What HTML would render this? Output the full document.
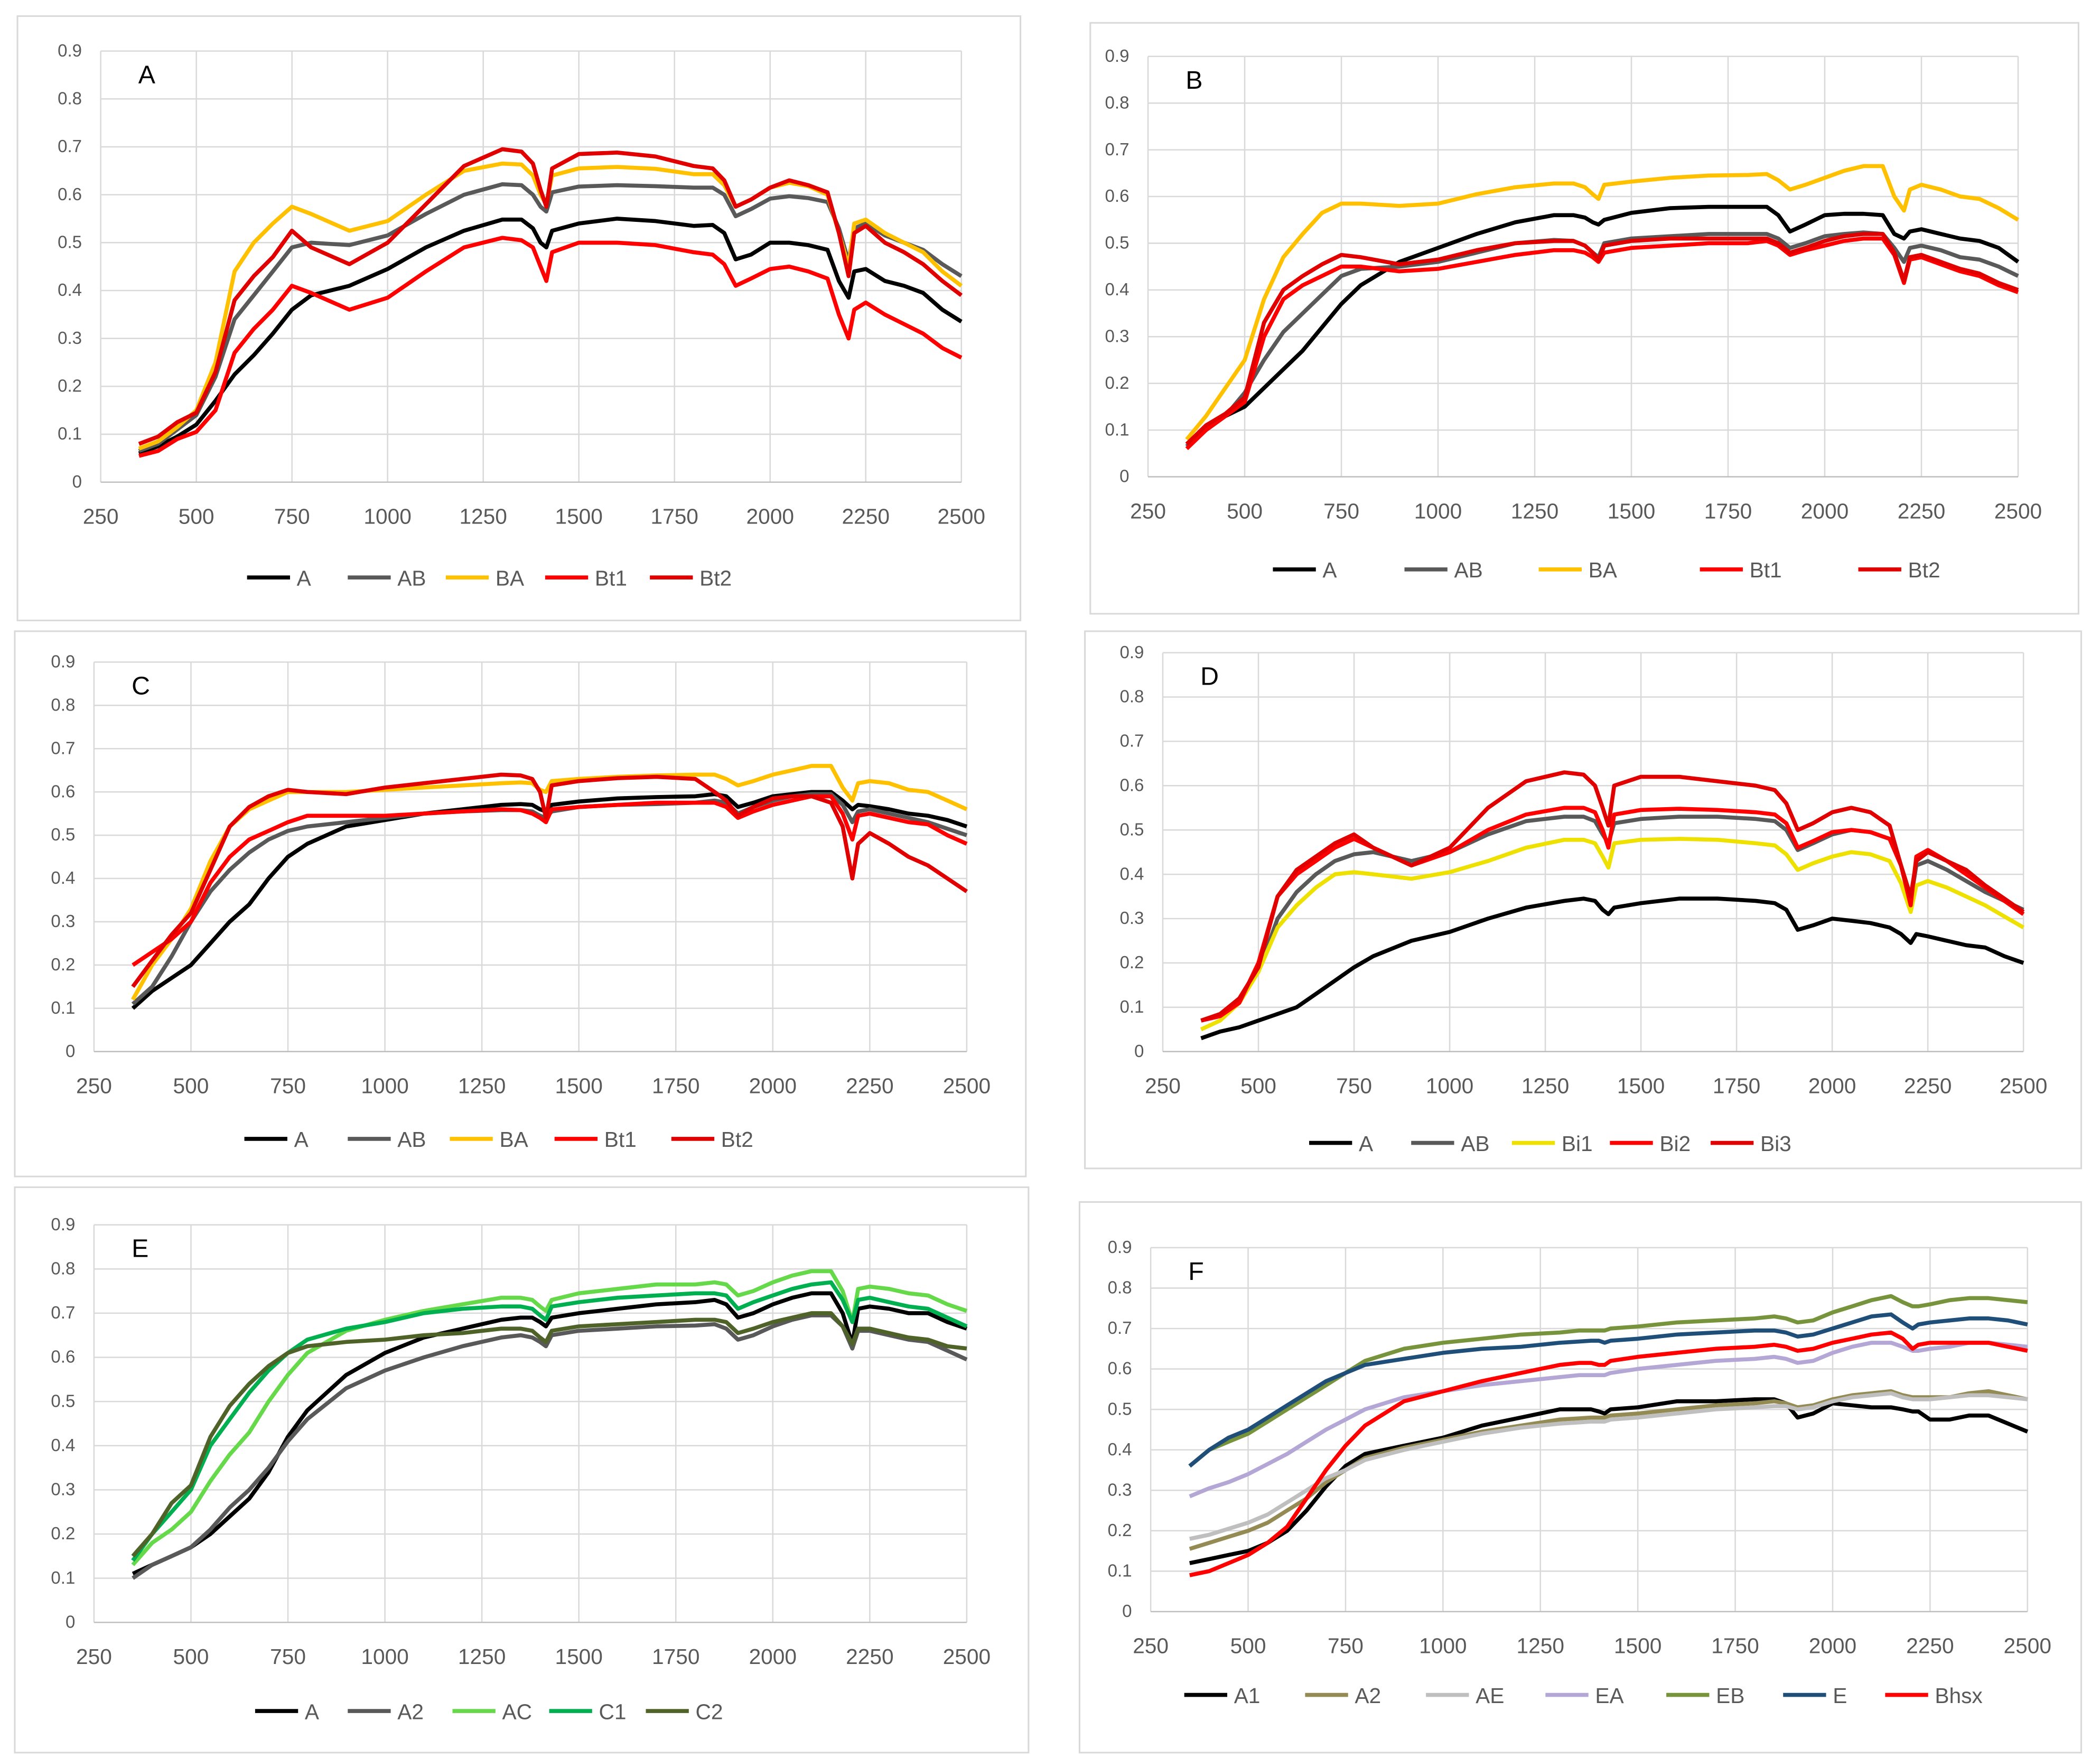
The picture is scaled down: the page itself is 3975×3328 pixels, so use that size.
<!DOCTYPE html>
<html><head><meta charset="utf-8"><style>
html,body{margin:0;padding:0;background:#fff}
svg{display:block}
text{font-family:"Liberation Sans Narrow","Liberation Sans",sans-serif;fill:#595959}
</style></head><body>
<svg id="fig" xmlns="http://www.w3.org/2000/svg" width="3975" height="3328" viewBox="0 0 1564 1309" preserveAspectRatio="none"></svg>
<script>
const wavelengths=[350,400,450,500,550,600,650,700,750,800,900,1000,1100,1200,1300,1350,1380,1400,1415,1430,1500,1600,1700,1800,1850,1880,1910,1950,2000,2050,2100,2150,2180,2205,2220,2250,2300,2350,2400,2450,2500];
const xTicks=[250,500,750,1000,1250,1500,1750,2000,2250,2500];
const yTicks=[0,0.1,0.2,0.3,0.4,0.5,0.6,0.7,0.8,0.9];
const yTickLabels=["0","0.1","0.2","0.3","0.4","0.5","0.6","0.7","0.8","0.9"];
// Panel A
const aNames=["A","AB","BA","Bt1","Bt2"];
const aA=[.06,.075,.095,.12,.17,.225,.265,.31,.36,.39,.41,.445,.49,.525,.548,.548,.53,.50,.49,.525,.54,.55,.545,.535,.537,.52,.465,.475,.5,.5,.495,.485,.42,.385,.44,.445,.42,.41,.395,.36,.335];
const aAB=[.065,.08,.11,.14,.22,.34,.39,.44,.49,.50,.495,.515,.56,.60,.622,.62,.60,.575,.565,.605,.617,.62,.618,.615,.615,.60,.555,.57,.592,.597,.593,.585,.53,.46,.53,.54,.515,.5,.485,.455,.43];
const aBA=[.07,.085,.115,.15,.25,.44,.5,.54,.575,.56,.525,.545,.6,.65,.665,.663,.64,.6,.58,.64,.655,.658,.654,.643,.643,.62,.575,.59,.615,.625,.618,.6,.52,.45,.54,.548,.52,.5,.48,.44,.41];
const aBt1=[.055,.065,.09,.105,.15,.27,.32,.36,.41,.395,.36,.385,.44,.49,.51,.505,.49,.45,.42,.48,.5,.5,.495,.48,.475,.455,.41,.425,.445,.45,.44,.425,.35,.30,.36,.375,.35,.33,.31,.28,.26];
const aBt2=[.08,.095,.125,.145,.23,.38,.43,.47,.525,.49,.455,.5,.58,.66,.695,.69,.665,.61,.575,.655,.685,.688,.68,.66,.655,.63,.575,.59,.615,.63,.62,.605,.52,.43,.52,.535,.5,.48,.455,.42,.39];
// Panel B
const bA=[.065,.1,.13,.15,.19,.23,.27,.32,.37,.41,.46,.49,.52,.545,.56,.56,.555,.545,.54,.55,.565,.575,.578,.578,.578,.56,.525,.54,.56,.563,.563,.56,.52,.51,.525,.53,.52,.51,.505,.49,.46];
const bAB=[.065,.1,.13,.18,.25,.31,.35,.39,.43,.445,.45,.46,.48,.5,.507,.505,.495,.48,.47,.5,.51,.515,.52,.52,.52,.51,.49,.5,.515,.52,.523,.52,.49,.46,.49,.495,.485,.47,.465,.45,.43];
const bBA=[.08,.13,.19,.25,.38,.47,.52,.565,.585,.585,.58,.585,.605,.62,.628,.628,.62,.605,.595,.625,.632,.64,.645,.646,.648,.635,.615,.625,.64,.655,.665,.665,.6,.57,.615,.625,.615,.6,.595,.575,.55];
const bBt1=[.06,.1,.13,.16,.3,.38,.41,.43,.45,.45,.44,.445,.46,.475,.485,.485,.48,.47,.46,.48,.49,.495,.5,.5,.505,.495,.475,.485,.495,.505,.51,.51,.475,.415,.465,.47,.455,.44,.43,.41,.395];
const bBt2=[.07,.11,.135,.17,.33,.4,.43,.455,.475,.47,.455,.465,.485,.5,.505,.505,.495,.48,.465,.495,.505,.51,.51,.51,.51,.5,.48,.49,.505,.515,.52,.52,.48,.42,.47,.475,.46,.445,.435,.415,.4];
// Panel C
const cA=[.1,.14,.17,.2,.25,.3,.34,.4,.45,.48,.52,.535,.55,.56,.57,.572,.57,.56,.555,.57,.578,.585,.588,.59,.595,.59,.565,.575,.59,.595,.6,.6,.58,.56,.57,.567,.56,.55,.545,.535,.52];
const cAB=[.11,.15,.22,.3,.37,.42,.46,.49,.51,.52,.53,.54,.55,.555,.558,.558,.555,.545,.54,.555,.565,.57,.572,.575,.58,.575,.55,.565,.58,.59,.595,.595,.57,.53,.555,.56,.55,.54,.53,.515,.5];
const cBA=[.12,.2,.26,.33,.44,.52,.56,.58,.6,.6,.6,.605,.61,.615,.62,.622,.62,.605,.6,.625,.63,.635,.638,.64,.64,.63,.615,.625,.64,.65,.66,.66,.61,.58,.62,.625,.62,.605,.6,.58,.56];
const cBt1=[.2,.23,.26,.3,.39,.45,.49,.51,.53,.545,.545,.545,.55,.555,.56,.558,.55,.54,.53,.56,.565,.57,.575,.575,.575,.565,.54,.555,.57,.58,.59,.59,.55,.49,.545,.55,.54,.53,.525,.5,.48];
const cBt2=[.15,.21,.27,.32,.42,.52,.565,.59,.605,.6,.595,.61,.62,.63,.64,.638,.63,.6,.54,.615,.625,.632,.635,.63,.6,.58,.545,.565,.585,.59,.59,.575,.52,.4,.48,.505,.48,.45,.43,.4,.37];
// Panel D
const dA=[.03,.045,.055,.07,.085,.1,.13,.16,.19,.215,.25,.27,.3,.325,.34,.345,.34,.32,.31,.325,.335,.345,.345,.34,.335,.32,.275,.285,.3,.295,.29,.28,.265,.245,.265,.26,.25,.24,.235,.215,.2];
const dAB=[.07,.08,.12,.18,.3,.36,.4,.43,.445,.45,.43,.45,.49,.52,.53,.53,.52,.49,.47,.515,.525,.53,.53,.525,.52,.5,.455,.47,.49,.5,.495,.48,.42,.34,.42,.43,.41,.385,.36,.34,.32];
const dBi1=[.05,.07,.11,.18,.28,.33,.37,.4,.405,.4,.39,.405,.43,.46,.478,.478,.47,.44,.415,.47,.478,.48,.478,.47,.465,.445,.41,.425,.44,.45,.445,.43,.38,.315,.375,.385,.37,.35,.33,.305,.28];
const dBi2=[.07,.08,.11,.2,.35,.4,.43,.46,.48,.46,.42,.45,.5,.535,.55,.55,.54,.5,.46,.535,.545,.548,.545,.54,.535,.515,.46,.475,.495,.5,.495,.48,.42,.33,.44,.455,.43,.4,.37,.34,.31];
const dBi3=[.07,.085,.12,.19,.35,.41,.44,.47,.49,.46,.42,.46,.55,.61,.63,.625,.6,.55,.51,.6,.62,.62,.61,.6,.59,.56,.5,.515,.54,.55,.54,.51,.42,.35,.43,.45,.43,.41,.375,.345,.315];
// Panel E
const eA=[.11,.13,.15,.17,.2,.24,.28,.34,.42,.48,.56,.61,.645,.665,.685,.69,.69,.68,.67,.69,.7,.71,.72,.725,.73,.72,.69,.7,.72,.735,.745,.745,.7,.63,.71,.715,.71,.7,.7,.68,.665];
const eA2=[.1,.13,.15,.17,.21,.26,.3,.35,.41,.46,.53,.57,.6,.625,.645,.65,.645,.635,.625,.65,.66,.665,.67,.672,.675,.665,.64,.65,.67,.685,.695,.695,.67,.62,.66,.66,.65,.64,.635,.615,.595];
const eAC=[.13,.18,.21,.25,.32,.38,.43,.5,.56,.61,.66,.685,.705,.72,.735,.735,.73,.715,.705,.73,.745,.755,.765,.765,.77,.765,.74,.75,.77,.785,.795,.795,.75,.68,.755,.76,.755,.745,.74,.72,.705];
const eC1=[.14,.2,.25,.3,.4,.46,.52,.57,.61,.64,.665,.68,.7,.71,.715,.715,.71,.695,.685,.715,.725,.735,.74,.745,.745,.74,.71,.725,.74,.755,.765,.77,.73,.68,.73,.735,.725,.715,.71,.69,.67];
const eC2=[.15,.2,.27,.31,.42,.49,.54,.58,.61,.625,.635,.64,.65,.655,.665,.665,.66,.645,.635,.66,.67,.675,.68,.685,.685,.68,.655,.665,.68,.69,.7,.7,.67,.63,.665,.665,.655,.645,.64,.625,.62];
// Panel F
const fA1=[.12,.13,.14,.15,.17,.2,.25,.31,.36,.39,.41,.43,.46,.48,.5,.5,.5,.495,.49,.5,.505,.52,.52,.525,.525,.515,.48,.49,.515,.51,.505,.505,.5,.495,.495,.475,.475,.485,.485,.465,.445];
const fA2=[.155,.17,.185,.2,.22,.25,.28,.32,.35,.38,.405,.425,.445,.46,.475,.478,.48,.48,.48,.485,.49,.5,.51,.515,.52,.515,.505,.51,.525,.535,.54,.545,.535,.53,.53,.53,.53,.54,.545,.535,.525];
const fAE=[.18,.19,.205,.22,.24,.27,.3,.33,.35,.375,.4,.42,.44,.455,.465,.468,.47,.47,.47,.475,.48,.49,.5,.505,.508,.508,.5,.505,.52,.53,.535,.54,.53,.525,.525,.525,.53,.535,.535,.53,.525];
const fEA=[.285,.305,.32,.34,.365,.39,.42,.45,.475,.5,.53,.545,.56,.57,.58,.585,.585,.585,.585,.59,.6,.61,.62,.625,.63,.625,.615,.62,.64,.655,.665,.665,.655,.645,.645,.65,.655,.665,.665,.66,.655];
const fEB=[.36,.4,.42,.44,.47,.5,.53,.56,.59,.62,.65,.665,.675,.685,.69,.695,.695,.695,.695,.7,.705,.715,.72,.725,.73,.725,.715,.72,.74,.755,.77,.78,.765,.755,.755,.76,.77,.775,.775,.77,.765];
const fE=[.36,.4,.43,.45,.48,.51,.54,.57,.59,.61,.625,.64,.65,.655,.665,.668,.67,.67,.665,.67,.675,.685,.69,.695,.695,.69,.68,.685,.7,.715,.73,.735,.715,.7,.71,.715,.72,.725,.725,.72,.71];
const fBhsx=[.09,.1,.12,.14,.17,.21,.28,.35,.41,.46,.52,.545,.57,.59,.61,.615,.615,.61,.61,.62,.63,.64,.65,.655,.66,.655,.645,.65,.665,.675,.685,.69,.675,.65,.66,.665,.665,.665,.665,.655,.645];

const panels=[
 {id:"a",letter:"A",frame:[13,12,747,450],px:[75,716],py:[359,38],ly:430,
  series:[["A",aA,"#000000",230],["AB",aAB,"#595959",305],["BA",aBA,"#FFC000",378],["Bt1",aBt1,"#FF0000",452],["Bt2",aBt2,"#E00000",530]]},
 {id:"b",letter:"B",frame:[812,17,736,440],px:[855,1503],py:[355,42],ly:424,
  series:[["A",bA,"#000000",994],["AB",bAB,"#595959",1092],["BA",bBA,"#FFC000",1192],["Bt1",bBt1,"#FF0000",1312],["Bt2",bBt2,"#E00000",1430]]},
 {id:"c",letter:"C",frame:[11,470,753,406],px:[70,720],py:[783,493],ly:848,
  series:[["A",cA,"#000000",228],["AB",cAB,"#595959",305],["BA",cBA,"#FFC000",381],["Bt1",cBt1,"#FF0000",459],["Bt2",cBt2,"#E00000",546]]},
 {id:"d",letter:"D",frame:[808,470,742,400],px:[866,1507],py:[783,486],ly:851,
  series:[["A",dA,"#000000",1021],["AB",dAB,"#595959",1097],["Bi1",dBi1,"#EEE000",1172],["Bi2",dBi2,"#FF0000",1245],["Bi3",dBi3,"#E00000",1320]]},
 {id:"e",letter:"E",frame:[11,884,755,421],px:[70,720],py:[1208,912],ly:1274,
  series:[["A",eA,"#000000",236],["A2",eA2,"#595959",305],["AC",eAC,"#66D94A",383],["C1",eC1,"#00B050",455],["C2",eC2,"#4F6228",527]]},
 {id:"f",letter:"F",frame:[804,895,746,410],px:[857,1510],py:[1200,929],ly:1262,
  series:[["A1",fA1,"#000000",928],["A2",fA2,"#948A54",1018],["AE",fAE,"#BFBFBF",1108],["EA",fEA,"#B4A7D6",1197],["EB",fEB,"#77933C",1287],["E",fE,"#1F4E79",1374],["Bhsx",fBhsx,"#FF0000",1450]]}
];
const NS="http://www.w3.org/2000/svg";
const svg=document.getElementById("fig");
function mk(tag,attrs,parent){const e=document.createElementNS(NS,tag);for(const k in attrs)e.setAttribute(k,attrs[k]);parent.appendChild(e);return e;}
panels.forEach(p=>{
  const g=mk("g",{},svg);
  
  
  const fr=mk("rect",{x:p.frame[0],y:p.frame[1],width:p.frame[2],height:p.frame[3],fill:"#fff",stroke:"#d9d9d9","stroke-width":1.2},g);
  
  
  const xS=v=>p.px[0]+(v-250)/(2250)*(p.px[1]-p.px[0]);
  const yS=v=>p.py[0]+(v/0.9)*(p.py[1]-p.py[0]);
  xTicks.forEach(t=>{
    const l=mk("line",{x1:xS(t),x2:xS(t),y1:yS(0),y2:yS(0.9),stroke:"#d9d9d9","stroke-width":1},g);
    
    
    const tx=mk("text",{x:xS(t),y:yS(0)+31,"text-anchor":"middle","font-size":16},g);
    tx.textContent=t;
    
    
  });
  yTicks.forEach((t,i)=>{
    const l=mk("line",{x1:xS(250),x2:xS(2500),y1:yS(t),y2:yS(t),stroke:i==0?"#bfbfbf":"#d9d9d9","stroke-width":1},g);
    
    
    const tx=mk("text",{x:xS(250)-14,y:yS(t)+4,"text-anchor":"end","font-size":13,fill:"#333"},g);
    tx.textContent=yTickLabels[i];
    
    
  });
  const lt=mk("text",{x:xS(250)+28,y:yS(0.9)+24,"font-size":19,fill:"#000",style:"fill:#000"},g);
  lt.textContent=p.letter;
  
  
  p.series.forEach(s=>{
    const d=s[1].map((v,i)=>(i?"L":"M")+xS(wavelengths[i]).toFixed(1)+","+yS(v).toFixed(1)).join("");
    const path=mk("path",{d:d,fill:"none",stroke:s[2],"stroke-width":3,"stroke-linejoin":"round"},g);
    
    
    const ll=mk("line",{x1:s[3]-46,x2:s[3]-14,y1:p.ly,y2:p.ly,stroke:s[2],"stroke-width":3},g);
    
    
    const lx=mk("text",{x:s[3]-9,y:p.ly+6,"font-size":16},g);
    lx.textContent=s[0];
    
    
  });
});
</script>
</body></html>
